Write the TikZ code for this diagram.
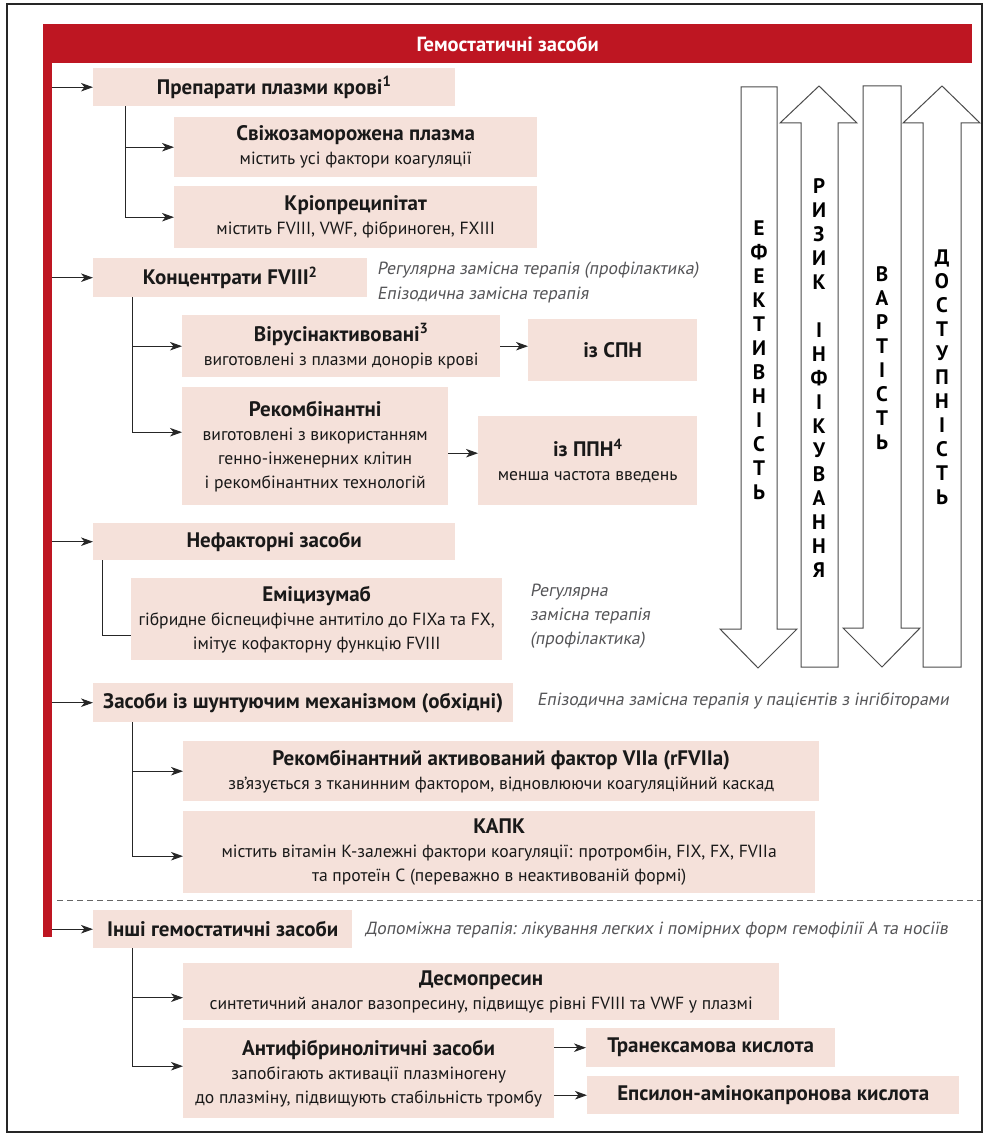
\documentclass[tikz,border=0pt]{standalone}
\usepackage{fontspec}
\setmainfont{PT Sans}
\newfontfamily\oblfont[FakeSlant=0.18]{PT Sans}
\usetikzlibrary{arrows.meta}
\definecolor{boxfill}{RGB}{245,225,218}
\definecolor{hdrred}{RGB}{190,22,34}
\definecolor{notegray}{RGB}{85,85,88}
\newcommand\bxtitle[1]{{\bfseries\fontsize{21}{24}\selectfont #1}}
\begin{document}
\begin{tikzpicture}[x=1pt,y=-1pt,
  pbox/.style={fill=boxfill, draw=none, inner sep=0pt, anchor=north west, align=center,
    text=black!90, font=\fontsize{17.6}{24}\selectfont},
  arr/.style={-{Stealth[length=12pt,width=8.5pt,inset=3.5pt]}, line width=0.9pt, black!85},
  conn/.style={line width=0.9pt, black!85},
  note/.style={anchor=west, inner sep=0pt, text=notegray, align=left, font=\oblfont\fontsize{17.6}{24}\selectfont},
  bigarrow/.style={draw=black!70, line width=1pt, fill=white},
  vlabel/.style={align=center, inner sep=0pt, font=\bfseries\fontsize{21}{24}\selectfont}
]
\useasboundingbox (0,0) rectangle (989,1139);
\fill[white] (0,0) rectangle (989,1139);
\draw[line width=1.1pt, black!85] (7,4) rectangle (982,1132);

% header and red bar
\node[fill=hdrred, inner sep=0pt, anchor=north west, minimum width=9pt, minimum height=913pt] (bar) at (43,24) {};
\node[fill=hdrred, inner sep=0pt, anchor=north west, minimum width=929pt, minimum height=39pt,
  text=white, font=\bfseries\fontsize{20.5}{22}\selectfont] (hdr) at (43,24) {Гемостатичні засоби};

% boxes
\node[pbox, minimum width=362pt, minimum height=38pt] (b1) at (93,68) {\bxtitle{Препарати плазми крові\textsuperscript{1}}};
\node[pbox, minimum width=363pt, minimum height=60pt] (b2) at (174,117) {\bxtitle{Свіжозаморожена плазма}\\містить усі фактори коагуляції};
\node[pbox, minimum width=363pt, minimum height=62pt] (b3) at (174,186) {\bxtitle{Кріопреципітат}\\містить FVIII, VWF, фібриноген, FXIII};
\node[pbox, minimum width=274pt, minimum height=39pt] (b4) at (93,258) {\bxtitle{Концентрати FVIII\textsuperscript{2}}};
\node[pbox, minimum width=318pt, minimum height=62pt] (b5) at (182,315) {\bxtitle{Вірусінактивовані\textsuperscript{3}}\\виготовлені з плазми донорів крові};
\node[pbox, minimum width=169pt, minimum height=62pt] (b6) at (528,319) {\bxtitle{із СПН}};
\node[pbox, minimum width=266pt, minimum height=118pt] (b7) at (182,387) {\bxtitle{Рекомбінантні}\\виготовлені з використанням\\генно-інженерних клітин\\і рекомбінантних технологій};
\node[pbox, minimum width=219pt, minimum height=89pt] (b8) at (478,416) {\bxtitle{із ППН\textsuperscript{4}}\\менша частота введень};
\node[pbox, minimum width=362pt, minimum height=37pt] (b9) at (93,523) {\bxtitle{Нефакторні засоби}};
\node[pbox, minimum width=371pt, minimum height=82pt] (b10) at (131,578) {\bxtitle{Еміцизумаб}\\гібридне біспецифічне антитіло до FIXa та FX,\\імітує кофакторну функцію FVIII};
\node[pbox, minimum width=420pt, minimum height=39pt] (b11) at (93,683) {\bxtitle{Засоби із шунтуючим механізмом (обхідні)}};
\node[pbox, minimum width=636pt, minimum height=60pt] (b12) at (183,741) {\bxtitle{Рекомбінантний активований фактор VIIa (rFVIIa)}\\зв’язується з тканинним фактором, відновлюючи коагуляційний каскад};
\node[pbox, minimum width=632pt, minimum height=82pt] (b13) at (183,811) {\bxtitle{КАПК}\\містить вітамін К-залежні фактори коагуляції: протромбін, FIX, FX, FVIIa\\та протеїн С (переважно в неактивованій формі)};
\node[pbox, minimum width=259pt, minimum height=38pt] (b14) at (93,910) {\bxtitle{Інші гемостатичні засоби}};
\node[pbox, minimum width=596pt, minimum height=57pt] (b15) at (183,963) {\bxtitle{Десмопресин}\\синтетичний аналог вазопресину, підвищує рівні FVIII та VWF у плазмі};
\node[pbox, minimum width=371pt, minimum height=90pt] (b16) at (183,1028) {\bxtitle{Антифібринолітичні засоби}\\запобігають активації плазміногену\\до плазміну, підвищують стабільність тромбу};
\node[pbox, minimum width=249pt, minimum height=39pt] (b17) at (586,1028) {\bxtitle{Транексамова кислота}};
\node[pbox, minimum width=372pt, minimum height=38pt] (b18) at (587,1076) {\bxtitle{Епсилон-амінокапронова кислота}};

% notes
\node[note] (n1) at (377,270) {Регулярна замісна терапія (профілактика)};
\node[note] (n2) at (377,295) {Епізодична замісна терапія};
\node[note] (n3) at (530,616) {Регулярна\\замісна терапія\\(профілактика)};
\node[note] (n4) at (537,701) {Епізодична замісна терапія у пацієнтів з інгібіторами};
\node[note] (n5) at (365,930) {Допоміжна терапія: лікування легких і помірних форм гемофілії А та носіїв};

% main arrows from the bar
\foreach \b in {b1,b4,b9,b11,b14}{\draw[arr] (\b.west -| bar.east) -- (\b.west);}

% branches
\draw[arr] ([xshift=32pt]b1.south west) |- (b2.west);
\draw[arr] ([xshift=32pt]b1.south west) |- (b3.west);
\draw[arr] ([xshift=39pt]b4.south west) |- (b5.west);
\draw[arr] ([xshift=39pt]b4.south west) |- ([yshift=14pt]b7.west);
\draw[arr] (b5.east) -- (b5.east -| b6.west);
\draw[arr] ([yshift=-7pt]b7.east) -- ([yshift=-7pt]b7.east -| b8.west);
\draw[conn] ([xshift=9pt]b9.south west) |- ([yshift=-16pt]b10.west);
\draw[arr] ([xshift=39pt]b11.south west) |- (b12.west);
\draw[arr] ([xshift=39pt]b11.south west) |- ([yshift=-4pt]b13.west);
\draw[arr] ([xshift=39pt]b14.south west) |- ([yshift=-6pt]b15.west);
\draw[arr] ([xshift=39pt]b14.south west) |- ([yshift=7pt]b16.west);
\draw[arr] (b17.west -| b16.east) -- (b17.west);
\draw[arr] (b18.west -| b16.east) -- (b18.west);

% dashed separator
\draw[black!60, line width=0.8pt, dash pattern=on 6pt off 4pt] (57,900) -- (981,900);

% big arrows
\draw[bigarrow] (741,87) -- (777,87) -- (777,629) -- (797,629) -- (758,668) -- (720,629) -- (741,629) -- cycle;
\draw[bigarrow] (819,86) -- (857,123) -- (838,123) -- (838,667) -- (801,667) -- (801,123) -- (780,123) -- cycle;
\draw[bigarrow] (863,86) -- (901,86) -- (901,628) -- (920,628) -- (882,667) -- (843,628) -- (863,628) -- cycle;
\draw[bigarrow] (942,86) -- (980,123) -- (961,123) -- (961,667) -- (923,667) -- (923,123) -- (903,123) -- cycle;

\node[vlabel] (v1) at (759,360) {Е\\Ф\\Е\\К\\Т\\И\\В\\Н\\І\\С\\Т\\Ь};
\node[vlabel] (v2) at (819,378) {Р\\И\\З\\И\\К\\\mbox{}\\І\\Н\\Ф\\І\\К\\У\\В\\А\\Н\\Н\\Я};
\node[vlabel] (v3) at (882,358) {В\\А\\Р\\Т\\І\\С\\Т\\Ь};
\node[vlabel] (v4) at (942,377) {Д\\О\\С\\Т\\У\\П\\Н\\І\\С\\Т\\Ь};
\end{tikzpicture}
\end{document}
